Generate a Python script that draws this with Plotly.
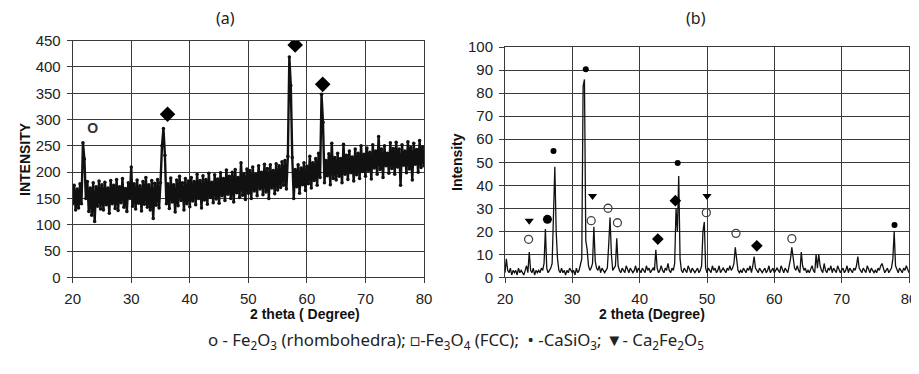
import numpy as np
import plotly.graph_objects as go

# ---------------- Panel (a) data: 2theta 20..80 step 0.25 ----------------
a_start, a_step = 20.0, 0.25
a_intensity = [
    140,175,128,168,132,178,140,256,225,150,182,125,170,118,180,106,172,135,183,130,
    176,128,181,138,170,122,184,140,175,131,186,127,172,142,188,133,169,125,180,150,
    210,135,178,130,185,141,174,126,182,139,190,133,176,128,184,112,179,137,186,132,
    180,250,283,232,140,178,131,189,143,176,124,185,136,192,146,180,128,188,140,183,
    134,190,145,182,138,196,150,184,132,193,147,186,139,198,152,181,142,195,149,187,
    141,199,155,188,146,204,158,192,150,200,143,205,161,190,152,218,156,197,148,206,
    160,203,150,210,164,196,155,212,168,200,157,215,162,207,150,214,170,203,159,216,
    166,212,171,220,175,222,168,230,419,365,228,150,205,172,214,160,208,176,218,165,
    211,178,230,170,218,184,226,175,236,190,348,295,180,222,193,235,176,255,188,228,
    185,236,192,226,180,253,196,232,186,240,199,229,183,244,195,236,188,250,201,234,
    192,246,203,238,187,252,208,240,196,268,205,244,190,250,212,236,198,256,207,245,
    196,257,210,244,175,252,213,240,199,258,206,247,185,255,215,243,200,260,209,248,
    212,
]
a_theta = np.round(a_start + a_step * np.arange(len(a_intensity)), 2)

# phase markers on panel (a)
a_diamond_x = [36.2, 58.0, 62.7]
a_diamond_y = [310, 442, 367]
a_circle_x = [23.4]
a_circle_y = [281]

# ---------------- Panel (b) data: 2theta 20..80 step 0.2 ----------------
b_start, b_step = 20.0, 0.2
b_intensity = [
    2,8,3,2,4,1,3,2,3,1,4,2,3,2,1,3,5,2,11,3,2,4,1,3,2,
    3,2,4,3,6,21,4,2,3,4,6,32,48,20,8,3,2,4,2,3,1,3,2,4,3,
    2,3,1,4,2,3,5,8,83,86,16,12,5,3,4,6,22,7,4,3,5,2,4,3,2,
    3,4,14,26,10,3,4,5,17,5,3,2,4,3,2,5,3,2,4,3,2,3,5,2,4,
    3,2,4,3,2,5,3,4,2,3,4,3,12,4,2,3,5,3,2,4,3,6,3,2,4,
    3,6,30,20,44,8,3,2,4,3,2,5,3,2,4,3,2,3,4,2,3,5,20,24,4,
    2,4,3,2,5,3,4,2,3,5,2,3,4,3,2,4,3,5,3,4,6,13,7,3,2,
    3,2,4,3,2,4,3,5,2,5,9,4,3,2,4,3,2,3,4,2,3,5,2,3,4,
    2,3,4,3,2,5,3,2,4,3,2,5,8,13,7,4,3,5,3,2,11,5,3,4,2,
    3,2,4,5,3,2,10,4,10,5,3,2,6,3,2,4,3,5,2,4,3,2,5,3,2,
    3,4,2,3,5,2,4,3,2,4,3,5,9,4,3,2,4,3,2,5,3,2,4,3,2,
    3,2,4,3,5,6,4,2,3,4,2,3,4,8,20,5,3,2,4,3,2,4,3,5,3,
    2,
]
b_theta = np.round(b_start + b_step * np.arange(len(b_intensity)), 2)

# phase markers on panel (b)
b_open_x = [23.5, 32.8, 35.3, 36.7, 49.9, 54.3, 62.6]
b_open_y = [16.5, 24.6, 30, 23.7, 28.1, 19.1, 16.8]
b_tri_x = [23.6, 33.0, 50.0]
b_tri_y = [24.6, 35.3, 35.3]
b_dot_x = [27.2, 32.0, 45.65, 77.85]
b_dot_y = [54.9, 90.4, 49.7, 22.7]
b_bigdot_x = [26.3]
b_bigdot_y = [25.2]
b_dia_x = [42.7, 45.3, 57.4]
b_dia_y = [16.6, 33.3, 13.7]

x_ticks = [20, 30, 40, 50, 60, 70, 80]
a_y_ticks = [0, 50, 100, 150, 200, 250, 300, 350, 400, 450]
b_y_ticks = [0, 10, 20, 30, 40, 50, 60, 70, 80, 90, 100]

# the page body has an 8px margin; size the figure to the visible area
PAGE_W, PAGE_H, OFF = 919, 374, 8
W, H = PAGE_W - OFF, PAGE_H - 2 * OFF

fig = go.Figure()

fig.add_trace(go.Scatter(x=a_theta, y=a_intensity, mode="lines+markers",
                         line=dict(color="#111111", width=2.4),
                         marker=dict(color="#111111", size=3.5),
                         xaxis="x", yaxis="y", showlegend=False))
fig.add_trace(go.Scatter(x=a_diamond_x, y=a_diamond_y, mode="markers",
                         marker=dict(symbol="diamond", color="black", size=12),
                         xaxis="x", yaxis="y", showlegend=False))
fig.add_trace(go.Scatter(x=a_circle_x, y=a_circle_y, mode="text", text=["<b>O</b>"],
                         textfont=dict(family="Liberation Sans, Arial", size=14, color="#333"),
                         xaxis="x", yaxis="y", showlegend=False))

fig.add_trace(go.Scatter(x=b_theta, y=b_intensity, mode="lines",
                         line=dict(color="#111111", width=1.3),
                         xaxis="x2", yaxis="y2", showlegend=False))
fig.add_trace(go.Scatter(x=b_open_x, y=b_open_y, mode="markers",
                         marker=dict(symbol="circle-open", color="#444", size=8,
                                     line=dict(width=1.3, color="#444")),
                         xaxis="x2", yaxis="y2", showlegend=False))
fig.add_trace(go.Scatter(x=b_tri_x, y=b_tri_y, mode="markers",
                         marker=dict(symbol="triangle-down", color="black", size=8),
                         xaxis="x2", yaxis="y2", showlegend=False))
fig.add_trace(go.Scatter(x=b_dot_x, y=b_dot_y, mode="markers",
                         marker=dict(symbol="circle", color="black", size=6),
                         xaxis="x2", yaxis="y2", showlegend=False))
fig.add_trace(go.Scatter(x=b_bigdot_x, y=b_bigdot_y, mode="markers",
                         marker=dict(symbol="circle", color="black", size=9),
                         xaxis="x2", yaxis="y2", showlegend=False))
fig.add_trace(go.Scatter(x=b_dia_x, y=b_dia_y, mode="markers",
                         marker=dict(symbol="diamond", color="black", size=9),
                         xaxis="x2", yaxis="y2", showlegend=False))

tickfont = dict(family="Liberation Sans, Arial", size=15, color="#222")
common = dict(showgrid=True, gridcolor="#3a3a3a", gridwidth=1,
              showline=True, linecolor="#3a3a3a", linewidth=1, mirror=True,
              ticks="outside", ticklen=5, tickcolor="#3a3a3a",
              tickfont=tickfont, zeroline=False, automargin=False,
              ticklabeloverflow="allow")

def px_x(p):
    return (p - OFF) / W

def px_y(p):
    return 1 - (p - OFF) / H

fig.update_layout(
    width=W, height=H,
    margin=dict(l=0, r=0, t=0, b=0, autoexpand=False),
    paper_bgcolor="white", plot_bgcolor="white",
    xaxis=dict(domain=[px_x(72.7), px_x(424)], range=[20, 80], tickvals=x_ticks,
               anchor="y", ticklabelstandoff=3, **common),
    yaxis=dict(domain=[px_y(277.3), px_y(40.7)], range=[0, 450], tickvals=a_y_ticks,
               anchor="x", ticklabelstandoff=3, **common),
    xaxis2=dict(domain=[px_x(505), px_x(909)], range=[20, 80], tickvals=x_ticks,
                anchor="y2", ticklabelstandoff=3, **common),
    yaxis2=dict(domain=[px_y(277.3), px_y(47.2)], range=[0, 100], tickvals=b_y_ticks,
                anchor="x2", ticklabelstandoff=3, **common),
)

titlefont = dict(family="Noto Sans, Lato", size=16, color="#222")
capfont = dict(family="Noto Sans, Lato", size=16.8, color="#222")
axtitle = dict(family="Liberation Sans, Arial", size=14, color="#111")
for txt, xp in [("(a)", 225), ("(b)", 696)]:
    fig.add_annotation(xref="paper", yref="paper", showarrow=False, text=txt,
                       x=px_x(xp), y=px_y(18), font=titlefont,
                       xanchor="center", yanchor="middle")

fig.add_annotation(xref="paper", yref="paper", showarrow=False, x=px_x(248), y=px_y(324),
                   text="<b>2 theta ( Degree)</b>", font=axtitle)
fig.add_annotation(xref="paper", yref="paper", showarrow=False, x=px_x(707), y=px_y(324),
                   text="<b>2 theta (Degree)</b>", font=axtitle)
fig.add_annotation(xref="paper", yref="paper", showarrow=False, x=px_x(15), y=px_y(159),
                   text="<b>INTENSITY</b>", font=axtitle, textangle=-90)
fig.add_annotation(xref="paper", yref="paper", showarrow=False, x=px_x(457), y=px_y(162),
                   text="<b>Intensity</b>", font=axtitle, textangle=-90)

caption = ("o - Fe<sub>2</sub>O<sub>3</sub> (rhombohedra); \u25a1-Fe<sub>3</sub>O<sub>4</sub> (FCC); "
           " \u2022 -CaSiO<sub>3</sub>; \u25bc- Ca<sub>2</sub>Fe<sub>2</sub>O<sub>5</sub>")
fig.add_annotation(xref="paper", yref="paper", showarrow=False, x=px_x(456), y=px_y(355),
                   text=caption, font=capfont)

fig.write_html("out.html")
